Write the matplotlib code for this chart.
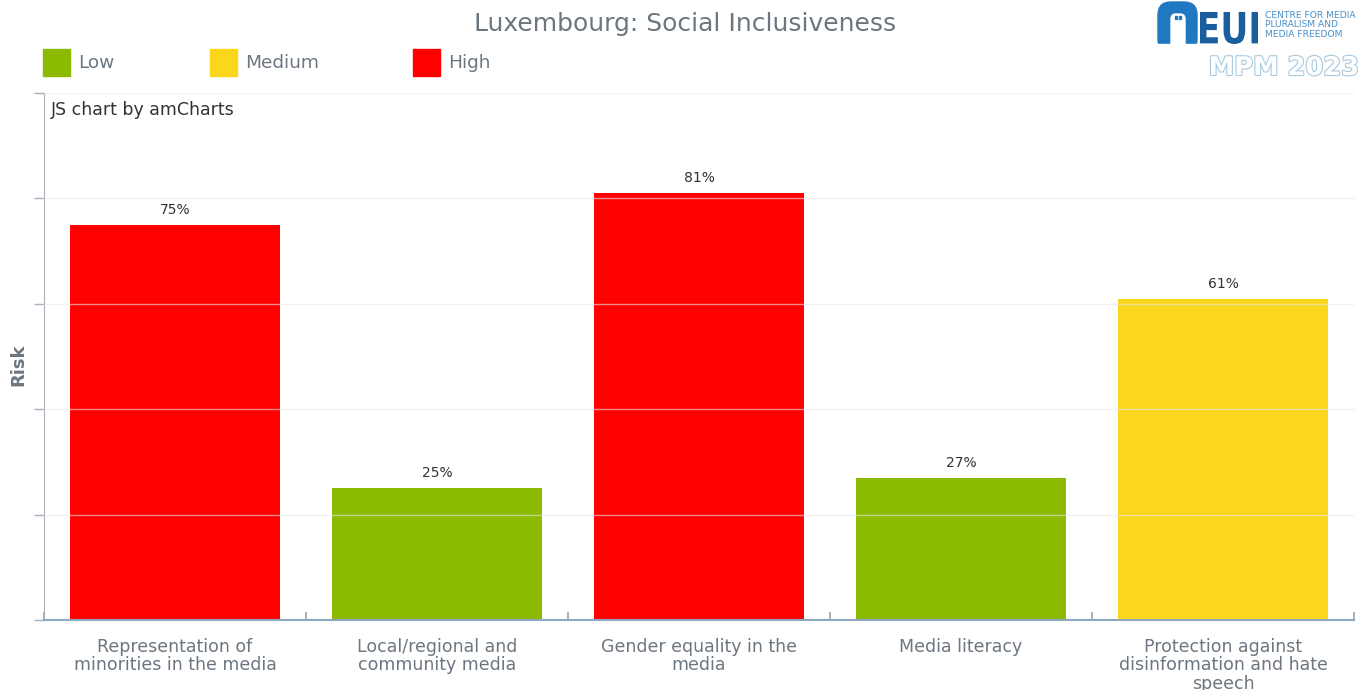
import matplotlib
matplotlib.use("Agg")
import matplotlib.pyplot as plt
import matplotlib.patches as mpatches
import matplotlib.patheffects as pe
from matplotlib.textpath import TextPath
from matplotlib.font_manager import FontProperties
from matplotlib.transforms import Affine2D

categories = [
    "Representation of\nminorities in the media",
    "Local/regional and\ncommunity media",
    "Gender equality in the\nmedia",
    "Media literacy",
    "Protection against\ndisinformation and hate\nspeech",
]
risk = [75, 25, 81, 27, 61]
levels = ["High", "Low", "High", "Low", "Medium"]

level_names = ["Low", "Medium", "High"]
level_colors = {"Low": "#8cba00", "Medium": "#fad71d", "High": "#ff0000"}

text_grey = "#6c7680"
axis_blue = "#8ea9bd"

fig = plt.figure(figsize=(13.71, 6.9), dpi=100)
W, H = 1371, 690

# plot area in pixels: x 44..1354, y 93..620
ax = fig.add_axes([44 / W, (H - 620) / H, (1354 - 44) / W, (620 - 93) / H])

x = range(len(categories))
ax.bar(x, risk, width=0.8, color=[level_colors[l] for l in levels], zorder=2)
for xi, v in zip(x, risk):
    ax.text(xi, v + 1.5, f"{v}%", ha="center", va="bottom",
            fontsize=10, color="#333333")

ax.set_xlim(-0.5, len(categories) - 0.5)
ax.set_ylim(0, 100)
ax.set_yticks([0, 20, 40, 60, 80, 100])
ax.set_yticklabels([])
for y in [20, 40, 60, 80, 100]:
    ax.axhline(y, color="#e6e6e6", lw=1, alpha=0.6, zorder=3)

ax.set_xticks([i + 0.5 for i in range(-1, len(categories))], minor=False)
ax.set_xticklabels([])
ax.set_xticks(list(x), minor=True)
ax.set_xticklabels(categories, minor=True, fontsize=12.5, color=text_grey,
                   linespacing=1.02, va="top")
ax.tick_params(axis="x", which="minor", length=0, pad=13)
ax.tick_params(axis="x", which="major", length=6, color=axis_blue, width=1.2,
               direction="in")
ax.tick_params(axis="y", length=7, color="#a9b2ba", width=1)

for s in ["top", "right"]:
    ax.spines[s].set_visible(False)
ax.spines["left"].set_color("#a9b2ba")
ax.spines["bottom"].set_color(axis_blue)
ax.spines["bottom"].set_linewidth(1.5)

fig.text(18 / W, 1 - 365 / H, "Risk", rotation=90, fontsize=13,
         fontweight="bold", color=text_grey, ha="center", va="center")
ax.text(0.005, 0.985, "JS chart by amCharts", transform=ax.transAxes,
        fontsize=12.5, color="#333333", va="top", ha="left")

fig.text(0.5, 1 - 24 / H, "Luxembourg: Social Inclusiveness", ha="center",
         va="center", fontsize=18, color=text_grey)

# legend row
leg_x = [43, 210, 413]
for name, lx in zip(level_names, leg_x):
    fig.patches.append(mpatches.Rectangle((lx / W, 1 - 76 / H), 27 / W, 27 / H,
                                          transform=fig.transFigure,
                                          color=level_colors[name]))
    fig.text((lx + 35) / W, 1 - 63 / H, name, fontsize=13.3, color=text_grey,
             va="center", ha="left")

# EUI / MPM logo, drawn in pixel coordinates
lg = fig.add_axes([1150 / W, 1 - 90 / H, 221 / W, 90 / H])
lg.set_xlim(1150, 1371)
lg.set_ylim(90, 0)
lg.axis("off")
arch = "#1f78c1"
lg.add_patch(mpatches.FancyBboxPatch((1158, 2), 39, 50,
                                     boxstyle="round,pad=0,rounding_size=13",
                                     color=arch))
lg.add_patch(mpatches.FancyBboxPatch((1171, 14), 14, 40,
                                     boxstyle="round,pad=0,rounding_size=5",
                                     color="white"))
lg.add_patch(mpatches.Rectangle((1155, 44), 45, 12, color="white"))
lg.add_patch(mpatches.Rectangle((1175, 16), 2, 3, color="#1f78c1"))
lg.add_patch(mpatches.Rectangle((1178.5, 16), 2, 3, color="#1f78c1"))

# condensed "EUI" squeezed into its box
tp = TextPath((0, 0), "EUI", size=1,
              prop=FontProperties(family="DejaVu Sans", weight="bold"))
ext = tp.get_extents()
sx = 58 / ext.width
sy = 32 / ext.height
tr = Affine2D().translate(-ext.x0, -ext.y0).scale(sx, -sy).translate(1200, 44)
lg.add_patch(mpatches.PathPatch(tr.transform_path(tp), color="#1b5e9e", lw=0))

lg.text(1265, 11, "CENTRE FOR MEDIA\nPLURALISM AND\nMEDIA FREEDOM",
        fontsize=6.6, color="#4a90c8", ha="left", va="top", linespacing=1.05)
lg.text(1284, 68, "MPM 2023", fontsize=18.5, color="white", ha="center",
        va="center", fontweight="bold",
        path_effects=[pe.withStroke(linewidth=1.6, foreground="#a9c9df")])

fig.savefig("out.png", dpi=100)
